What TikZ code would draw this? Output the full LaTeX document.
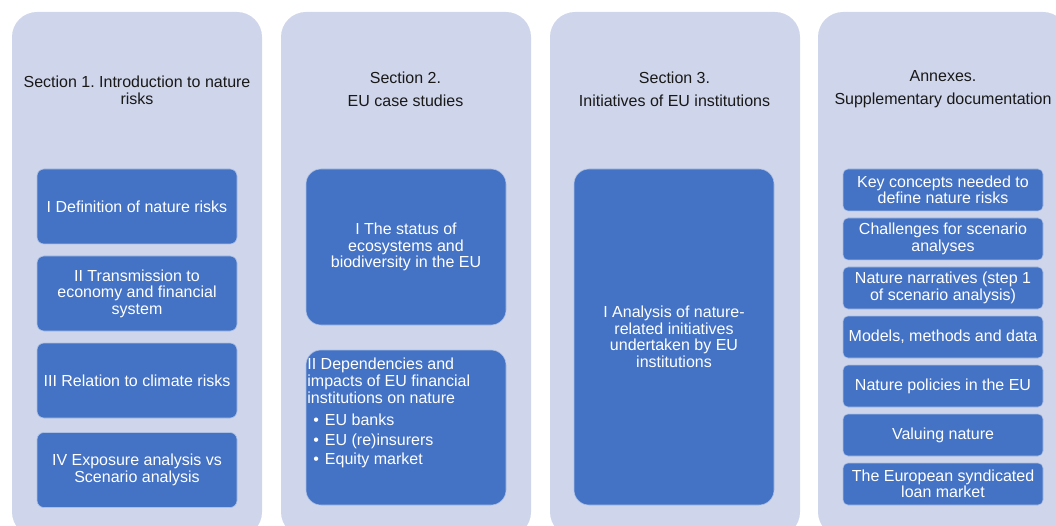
\documentclass[tikz,border=0pt]{standalone}
\usepackage{fontspec}
\setmainfont{Liberation Sans}
\frenchspacing
\definecolor{panelfill}{HTML}{CFD5EA}
\definecolor{itemfill}{HTML}{4472C4}
\begin{document}
\begin{tikzpicture}[x=1pt,y=-1pt,
  panel/.style={fill=panelfill,rounded corners=25pt},
  itembox/.style={fill=itemfill,draw=white!55!itemfill,line width=0.6pt,rounded corners=#1,
    minimum width=200pt,inner sep=2pt,text=white,align=center,font=\fontsize{16}{16.5}\selectfont},
  itembox/.default=7pt,
  heading/.style={align=center,text=black!90,font=\fontsize{16}{17}\selectfont}]
\useasboundingbox (0,0) rectangle (1056,526);
\clip (0,0) rectangle (1056,526);
% background columns
\foreach \x in {12,281,550,818}
  \fill[panel] (\x,12) rectangle ++(250,525);
% headings
\node[heading] (head1) at (137,90.5) {Section 1. Introduction to nature\\risks};
\node[heading] (head2) at (405.5,89.5) {Section 2.\\[6pt]EU case studies};
\node[heading] (head3) at (674.5,89.5) {Section 3.\\[6pt]Initiatives of EU institutions};
\node[heading] (head4) at (943,89.5) {Annexes.\\[6pt]Supplementary documentation};
% section 1
\node[itembox,minimum height=75pt] (s1a) at (137,206.5) {I Definition of nature risks};
\node[itembox,minimum height=75pt] (s1b) at (137,293.5) {II Transmission to\\economy and financial\\system};
\node[itembox,minimum height=75pt] (s1c) at (137,380.5) {III Relation to climate risks};
\node[itembox,minimum height=75pt] (s1d) at (137,470) {IV Exposure analysis vs\\Scenario analysis};
% section 2
\node[itembox=15pt,minimum height=156pt] (s2a) at (406,247) {I The status of\\ecosystems and\\biodiversity in the EU};
\node[itembox=15pt,minimum height=155pt] (s2b) at (406,427.5) {};
\node[anchor=north west,align=left,inner sep=0pt,text=white,font=\fontsize{16}{17}\selectfont]
  (s2list) at ([xshift=1.5pt,yshift=-8pt]s2b.north west)
  {II Dependencies and\\impacts of EU financial\\institutions on nature\\[5pt]
   \hspace*{6pt}•\hspace{6pt}EU banks\\[3pt]
   \hspace*{6pt}•\hspace{6pt}EU (re)insurers\\[2pt]
   \hspace*{6pt}•\hspace{6pt}Equity market};
% section 3
\node[itembox=15pt,minimum height=336pt] (s3a) at (674,337) {I Analysis of nature-\\related initiatives\\undertaken by EU\\institutions};
% annexes
\foreach \txt [count=\i from 0] in {{Key concepts needed to\\define nature risks},
    {Challenges for scenario\\analyses},
    {Nature narratives (step 1\\of scenario analysis)},
    {Models, methods and data},
    {Nature policies in the EU},
    {Valuing nature},
    {The European syndicated\\loan market}}
  \node[itembox=5pt,minimum height=42pt] (ann\i) at (943,190+49*\i) {\txt};
\end{tikzpicture}
\end{document}
